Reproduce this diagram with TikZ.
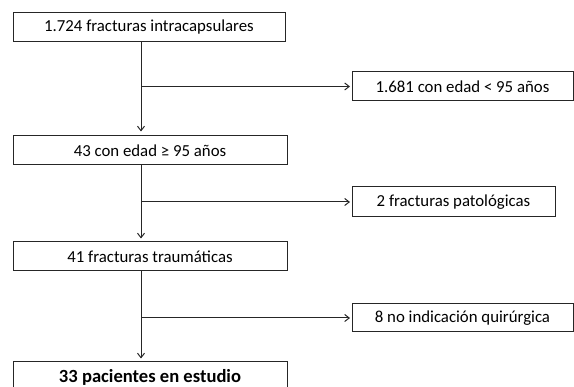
\documentclass[tikz,border=0pt]{standalone}
\usepackage{fontspec}
\setmainfont{Carlito}
\usetikzlibrary{arrows.meta}
\usetikzlibrary{calc}

\tikzset{
    box/.style={draw=black!85, line width=1pt, inner sep=0pt, font=\fontsize{16.8}{19}\selectfont},
    link/.style={draw=black!85, line width=1pt, -{Straight Barb[length=4.5pt,width=7pt]}}
}

\begin{document}
\begin{tikzpicture}[x=1pt,y=-1pt]
    \useasboundingbox (0,0) rectangle (574,387);

    \node[box, minimum width=272pt, minimum height=29pt] (total) at (149,27.5) {1.724 fracturas intracapsulares};
    \node[box, minimum width=274pt, minimum height=29pt] (mayores) at (150,150.5) {43 con edad ≥ 95 años};
    \node[box, minimum width=274pt, minimum height=29pt] (trauma) at (150,256.5) {41 fracturas traumáticas};
    \node[box, minimum width=274pt, minimum height=30pt, font=\fontsize{18.6}{21}\selectfont\bfseries] (estudio) at (150,377) {33 pacientes en estudio};

    \node[box, minimum width=221pt, minimum height=29pt] (menores) at (462.5,86.5) {1.681 con edad < 95 años};
    \node[box, minimum width=203pt, minimum height=30pt] (patol) at (453.5,202) {2 fracturas patológicas};
    \node[box, minimum width=221pt, minimum height=28pt] (noind) at (462.5,318) {8 no indicación quirúrgica};

    % trunk and branches
    \coordinate (t1) at (141,86.5);
    \coordinate (t2) at (141,202);
    \coordinate (t3) at (141,318);

    \draw[link, shorten >=4pt] (t1 |- total.south) -- (t1 |- mayores.north);
    \draw[link, shorten >=3pt] (t2 |- mayores.south) -- (t2 |- trauma.north);
    \draw[link, shorten >=3pt] (t3 |- trauma.south) -- (t3 |- estudio.north);

    \draw[link, shorten >=1.5pt] (t1) -- (menores.west);
    \draw[link, shorten >=1.5pt] (t2) -- (patol.west);
    \draw[link, shorten >=1.5pt] (t3) -- (noind.west);
\end{tikzpicture}
\end{document}
